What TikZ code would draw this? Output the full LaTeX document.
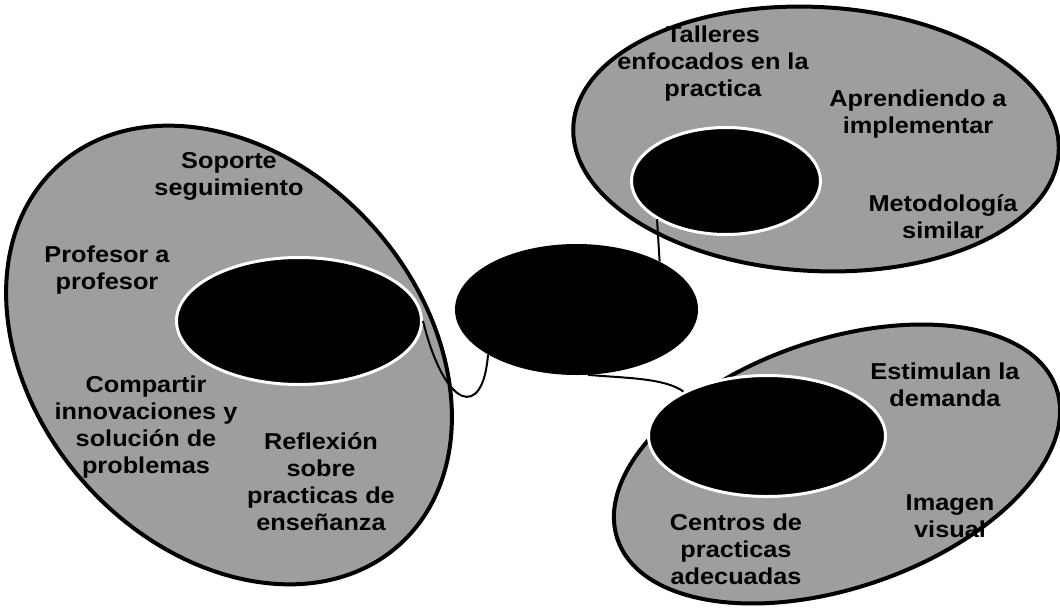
\documentclass[tikz,border=0pt]{standalone}
\usepackage{fontspec}
\usetikzlibrary{shapes.geometric}
\newfontfamily\lblfont{Liberation Sans}[FakeStretch=1.1]
\newcommand\lbl{\lblfont\fontsize{23}{27}\selectfont\bfseries}
\newcommand\ml[1]{\begin{tabular}{@{}c@{}}#1\end{tabular}}
\definecolor{shade}{gray}{0.62}
\tikzset{
  outer/.style={ellipse, draw=black, line width=4pt, fill=shade, inner sep=0pt},
  core/.style={ellipse, draw=white, line width=3pt, fill=black, inner sep=0pt},
  hub/.style={ellipse, fill=black, inner sep=0pt},
  conn/.style={draw=black, line width=2pt},
  txt/.style={font=\lbl, inner sep=0pt, text=black}
}
\begin{document}
\begin{tikzpicture}[x=1pt, y=-1pt]
\useasboundingbox (0,0) rectangle (1060,611);
% outer ellipses
\node[outer, minimum width=510pt, minimum height=386pt, rotate=-48] (L) at (229,355) {};
\node[outer, minimum width=486pt, minimum height=264pt, rotate=-3] (TR) at (816,139) {};
\node[outer, minimum width=464pt, minimum height=248pt, rotate=19] (BR) at (837,464) {};
% inner ellipses
\node[core, minimum width=245pt, minimum height=127pt] (li) at (299,321) {};
\node[core, minimum width=189pt, minimum height=107pt] (tr) at (726,181) {};
\node[core, minimum width=237pt, minimum height=121pt] (br) at (767,436) {};
% central ellipse
\node[hub, minimum width=243pt, minimum height=131pt] (c) at (576.5,309.5) {};
% connectors
\draw[conn] (c.30) -- (tr.209);
\draw[conn] (c.207) .. controls (483,420) and (445,410) .. (li.0);
\draw[conn] (c.-80) .. controls (625,378) and (665,378) .. (br.152);
% texts, left
\node[txt] (t1) at (229,177) {\ml{Soporte\\seguimiento}};
\node[txt] (t2) at (107,271) {\ml{Profesor a\\profesor}};
\node[txt] (t3) at (146,428) {\ml{Compartir\\innovaciones y\\solución de\\problemas}};
\node[txt] (t4) at (321,485) {\ml{Reflexión\\sobre\\practicas de\\enseñanza}};
% texts, top right
\node[txt] (t5) at (713,64) {\ml{Talleres\\enfocados en la\\practica}};
\node[txt] (t6) at (918,115) {\ml{Aprendiendo a\\implementar}};
\node[txt] (t7) at (943,220) {\ml{Metodología\\similar}};
% texts, bottom right
\node[txt] (t8) at (945,388) {\ml{Estimulan la\\demanda}};
\node[txt] (t9) at (950,519) {\ml{Imagen\\visual}};
\node[txt] (t10) at (736,552) {\ml{Centros de\\practicas\\adecuadas}};
\end{tikzpicture}
\end{document}
